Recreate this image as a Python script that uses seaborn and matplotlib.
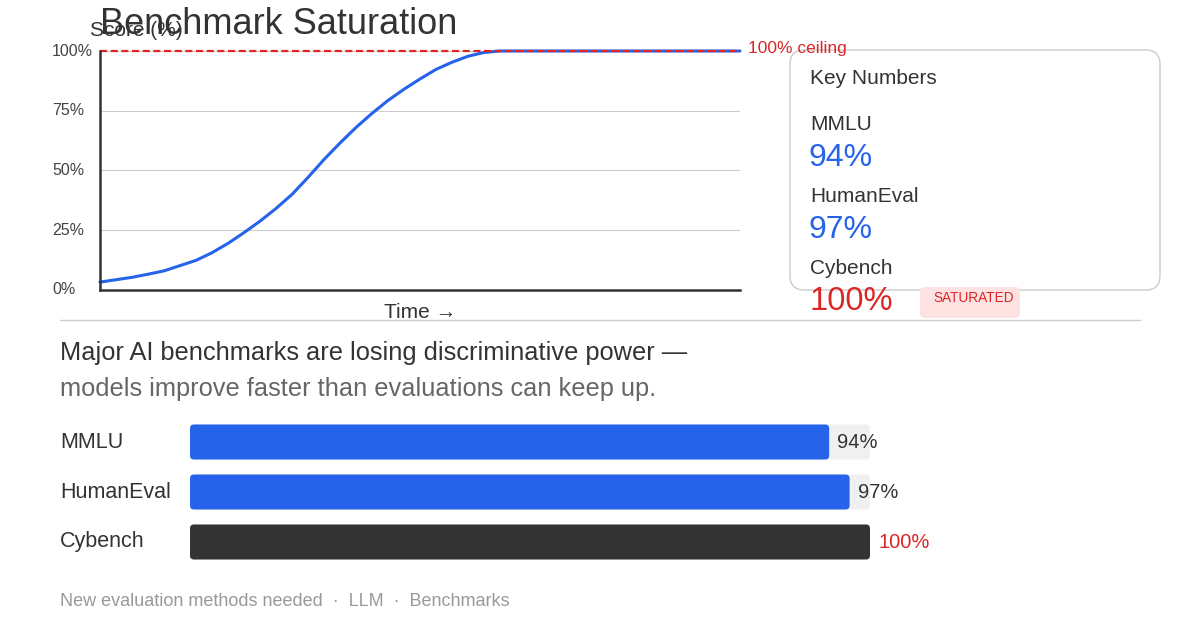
import matplotlib
matplotlib.use("Agg")
import matplotlib.pyplot as plt
from matplotlib.patches import FancyBboxPatch
import seaborn as sns
import pandas as pd

# ---- data ----
time_steps = list(range(41))
scores = [3.3, 4.3, 5.3, 6.6, 8.0, 10.2, 12.4, 15.6, 19.5, 24.0, 28.8, 34.1, 40.0,
          47.1, 54.6, 61.5, 68.0, 73.9, 79.3, 84.0, 88.3, 92.3, 95.3, 97.8, 99.4,
          100, 100, 100, 100, 100, 100, 100, 100, 100, 100, 100, 100, 100, 100, 100, 100]
benchmarks = ["MMLU", "HumanEval", "Cybench"]
bench_values = [94, 97, 100]
ytick_vals = [0, 25, 50, 75, 100]
ytick_labels = ["0%", "25%", "50%", "75%", "100%"]

BLUE = "#2563eb"
RED = "#dc2626"
DARK = "#333333"

sns.set_theme(style="white")
plt.rcParams["font.family"] = ["Liberation Sans", "DejaVu Sans"]

W, H = 1200, 630
fig = plt.figure(figsize=(W / 100, H / 100), dpi=100)


def fx(x):
    return x / W


def fy(y):
    return 1 - y / H


def ftext(x, y, s, **kw):
    kw.setdefault("va", "center")
    kw.setdefault("ha", "left")
    fig.text(fx(x), fy(y), s, **kw)


# ---- line chart ----
ax = fig.add_axes([fx(100), fy(290), fx(740) - fx(100), fy(51) - fy(290)])
df = pd.DataFrame({"t": time_steps, "score": scores})
sns.lineplot(data=df, x="t", y="score", ax=ax, color=BLUE, linewidth=2.2)
for ln in ax.lines:
    ln.set_clip_on(False)
    ln.set_zorder(2.5)
ax.axhline(100, color=RED, linestyle=(0, (3.2, 1.6)), linewidth=1.6, zorder=3,
           clip_on=False)
ax.set_xlim(0, 40)
ax.set_ylim(0, 100)
ax.set_yticks(ytick_vals)
ax.set_yticklabels(ytick_labels)
for lab in ax.get_yticklabels():
    lab.set_ha("left")
    lab.set_va("center")
    lab.set_color("#444444")
    lab.set_fontsize(11.5)
ax.tick_params(axis="y", length=0, pad=34.5)
ax.set_xticks([])
ax.grid(axis="y", color="#cccccc", linewidth=0.8)
ax.grid(axis="x", visible=False)
for s in ["top", "right"]:
    ax.spines[s].set_visible(False)
for s in ["left", "bottom"]:
    ax.spines[s].set_color(DARK)
    ax.spines[s].set_linewidth(1.8)
    ax.spines[s].set_zorder(4)
ax.set_xlabel("Time →", fontsize=15, color=DARK, labelpad=9.5)
ax.set_ylabel("")

ftext(748, 48, "100% ceiling", color=RED, fontsize=12.5)
ftext(90, 31, "Score (%)", color=DARK, fontsize=15)
ftext(100, 25, "Benchmark Saturation", color=DARK, fontsize=26)

# ---- key numbers card ----
card = FancyBboxPatch((fx(790), fy(290)), fx(1160) - fx(790), fy(50) - fy(290),
                      boxstyle="round,pad=0,rounding_size=0.012",
                      transform=fig.transFigure, facecolor="white",
                      edgecolor="#cccccc", linewidth=1, mutation_aspect=W / H,
                      zorder=0)
fig.patches.append(card)
ftext(810, 78, "Key Numbers", color=DARK, fontsize=15)
ftext(810, 125, "MMLU", color=DARK, fontsize=15)
ftext(809, 158, "94%", color=BLUE, fontsize=23)
ftext(810, 197, "HumanEval", color=DARK, fontsize=15)
ftext(809, 230, "97%", color=BLUE, fontsize=23)
ftext(810, 269, "Cybench", color=DARK, fontsize=15)
ftext(809, 301, "100%", color=RED, fontsize=23.5)
badge = FancyBboxPatch((fx(920), fy(318)), fx(1020) - fx(920), fy(287) - fy(318),
                       boxstyle="round,pad=0,rounding_size=0.004",
                       transform=fig.transFigure, facecolor="#fee2e2",
                       edgecolor="none", mutation_aspect=W / H)
fig.patches.append(badge)
ftext(974, 298, "SATURATED", color=RED, fontsize=9.8, ha="center")

# separator
fig.add_artist(plt.Line2D([fx(60), fx(1140)], [fy(320), fy(320)],
                          color="#cccccc", linewidth=1, transform=fig.transFigure))

ftext(60, 353, "Major AI benchmarks are losing discriminative power —", color=DARK, fontsize=18.3)
ftext(60, 389, "models improve faster than evaluations can keep up.", color="#666666", fontsize=18.3)

# ---- bar chart ----
bx = fig.add_axes([fx(190), fy(567), fx(870) - fx(190), fy(417) - fy(567)])
bdf = pd.DataFrame({"bench": benchmarks, "value": bench_values,
                    "track": [100] * len(benchmarks)})
sns.barplot(data=bdf, y="bench", x="track", ax=bx, color="#f0f0f0", width=0.7,
            saturation=1, orient="h")
bar_colors = [BLUE, BLUE, DARK]
sns.barplot(data=bdf, y="bench", x="value", ax=bx, hue="bench",
            palette=bar_colors, width=0.7, saturation=1, orient="h", legend=False)
bx.set_xlim(0, 100)
bx.set_ylim(2.5, -0.5)
bx.axis("off")

# round the bar corners
px_per_x = 680 / 100
px_per_y = 150 / 3
r_px = 4
new_patches = []
for p in list(bx.patches):
    x0, y0 = p.get_x(), p.get_y()
    w, h = p.get_width(), p.get_height()
    fb = FancyBboxPatch((x0, y0), w, h,
                        boxstyle=f"round,pad=0,rounding_size={r_px / px_per_x}",
                        mutation_aspect=px_per_x / px_per_y,
                        facecolor=p.get_facecolor(), edgecolor="none",
                        zorder=p.get_zorder())
    p.remove()
    new_patches.append(fb)
for fb in new_patches:
    bx.add_patch(fb)

for i, (name, v) in enumerate(zip(benchmarks, bench_values)):
    col = RED if v >= 100 else DARK
    bx.text(v + 8 / px_per_x, i, f"{v}%", va="center", ha="left",
            fontsize=14.5, color=col)
    ftext(60, 442 + 50 * i, name, color=DARK, fontsize=15.5)

ftext(60, 602, "New evaluation methods needed  ·  LLM  ·  Benchmarks", color="#999999", fontsize=13)

fig.savefig("out.png", dpi=100, facecolor="white")
